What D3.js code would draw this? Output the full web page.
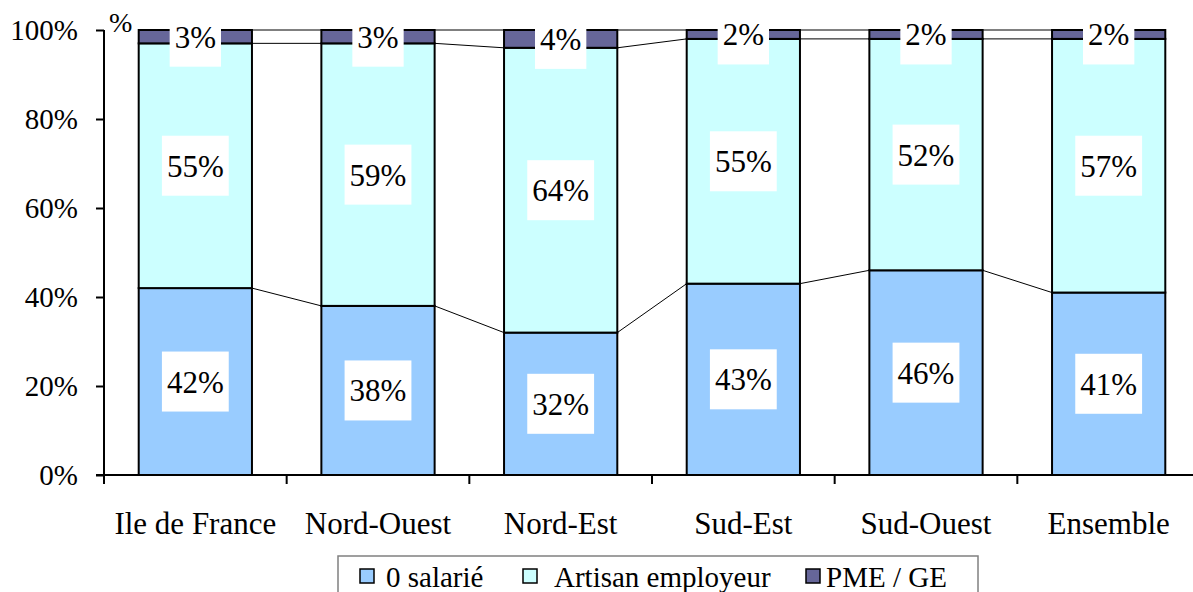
<!DOCTYPE html>
<html>
<head>
<meta charset="utf-8">
<script src="https://cdn.jsdelivr.net/npm/d3@7"></script>
</head>
<body style="margin:0">
<script>
var w = 1193;
var h = 592;
var fontName = "'Liberation Serif'";

var categories = ["Ile de France", "Nord-Ouest", "Nord-Est", "Sud-Est", "Sud-Ouest", "Ensemble"];
var seriesNames = ["0 salarié", "Artisan employeur", "PME / GE"];
var zeroSalarie = [42, 38, 32, 43, 46, 41];
var artisan = [55, 59, 64, 55, 52, 57];
var pme = [3, 3, 4, 2, 2, 2];
var yTicks = [0, 20, 40, 60, 80, 100];
var colors = ["#99CCFF", "#CCFFFF", "#666699"];

var rows = categories.map(function(c, i) {
  return { cat: c, s0: zeroSalarie[i], s1: artisan[i], s2: pme[i] };
});
var stack = d3.stack().keys(["s0", "s1", "s2"])(rows);

var svg = d3.select("body")
    .append("svg")
    .attr("width", w)
    .attr("height", h)
    .style("font-family", fontName);

var x = d3.scaleBand()
    .domain(categories)
    .range([104, 1200])
    .paddingInner(0.38)
    .paddingOuter(0.19);

var y = d3.scaleLinear()
    .domain([0, 100])
    .range([475, 30]);

// connector lines between bars
stack.forEach(function(layer) {
  for (var i = 0; i < categories.length - 1; i++) {
    svg.append("line")
        .attr("x1", x(categories[i]) + x.bandwidth())
        .attr("y1", y(layer[i][1]))
        .attr("x2", x(categories[i + 1]))
        .attr("y2", y(layer[i + 1][1]))
        .attr("stroke", "#000")
        .attr("stroke-width", 1);
  }
});

// bars
var layers = svg.selectAll(".layer")
    .data(stack)
    .enter()
    .append("g")
    .attr("fill", function(d, i) { return colors[i]; });

layers.selectAll("rect")
    .data(function(d) { return d; })
    .enter()
    .append("rect")
    .attr("x", function(d) { return x(d.data.cat); })
    .attr("y", function(d) { return y(d[1]); })
    .attr("width", x.bandwidth())
    .attr("height", function(d) { return y(d[0]) - y(d[1]); })
    .attr("stroke", "#000")
    .attr("stroke-width", 2);

// labels with white boxes (Times metrics: digit 0.5em, % 0.833em)
var labelSize = 31;
stack.forEach(function(layer) {
  layer.forEach(function(d) {
    var txt = (d[1] - d[0]) + "%";
    var cx = x(d.data.cat) + x.bandwidth() / 2;
    var cy = y((d[0] + d[1]) / 2);
    var bw = ((txt.length - 1) * 0.5 + 0.833) * labelSize + 10;
    svg.append("rect")
        .attr("x", cx - bw / 2)
        .attr("y", cy - 30)
        .attr("width", bw)
        .attr("height", 60)
        .attr("fill", "#fff");
    svg.append("text")
        .attr("x", cx)
        .attr("y", cy + 11)
        .attr("text-anchor", "middle")
        .style("font-size", labelSize + "px")
        .text(txt);
  });
});

// y axis
var yAxis = d3.axisLeft(y)
    .tickValues(yTicks)
    .tickSize(8)
    .tickFormat(function(d) { return d + "%"; });

var gy = svg.append("g")
    .attr("transform", "translate(104,0)")
    .call(yAxis)
    .attr("font-family", null)
    .attr("font-size", null);
gy.select(".domain").attr("stroke-width", 2).attr("d", "M0,30V475");
gy.selectAll(".tick line").attr("stroke-width", 2);
gy.selectAll(".tick text")
    .attr("x", -26)
    .attr("dy", "0.34em")
    .attr("fill", "#000")
    .style("font-size", "29px");

svg.append("text")
    .attr("x", 109)
    .attr("y", 32)
    .style("font-size", "28px")
    .text("%");

// x axis
svg.append("line")
    .attr("x1", 96).attr("x2", 1200)
    .attr("y1", 475).attr("y2", 475)
    .attr("stroke", "#000")
    .attr("stroke-width", 2);

var step = x.step();
d3.range(categories.length + 1).forEach(function(i) {
  svg.append("line")
      .attr("x1", 104 + i * step).attr("x2", 104 + i * step)
      .attr("y1", 475).attr("y2", 484)
      .attr("stroke", "#000")
      .attr("stroke-width", 2);
});

svg.selectAll(".cat")
    .data(categories)
    .enter()
    .append("text")
    .attr("class", "cat")
    .attr("x", function(d) { return x(d) + x.bandwidth() / 2; })
    .attr("y", 534)
    .attr("text-anchor", "middle")
    .style("font-size", "31px")
    .text(function(d) { return d; });

// legend
svg.append("rect")
    .attr("x", 338).attr("y", 556)
    .attr("width", 640).attr("height", 50)
    .attr("fill", "#fff")
    .attr("stroke", "#808080")
    .attr("stroke-width", 1.5);

var swatchX = [360, 523, 806];
var textX = [386, 554, 826];
seriesNames.forEach(function(name, i) {
  svg.append("rect")
      .attr("x", swatchX[i]).attr("y", 569)
      .attr("width", 14).attr("height", 14)
      .attr("fill", colors[i])
      .attr("stroke", "#000")
      .attr("stroke-width", 1.5);
  svg.append("text")
      .attr("x", textX[i])
      .attr("y", 587)
      .style("font-size", "29px")
      .text(name);
});
</script>
</body>
</html>
